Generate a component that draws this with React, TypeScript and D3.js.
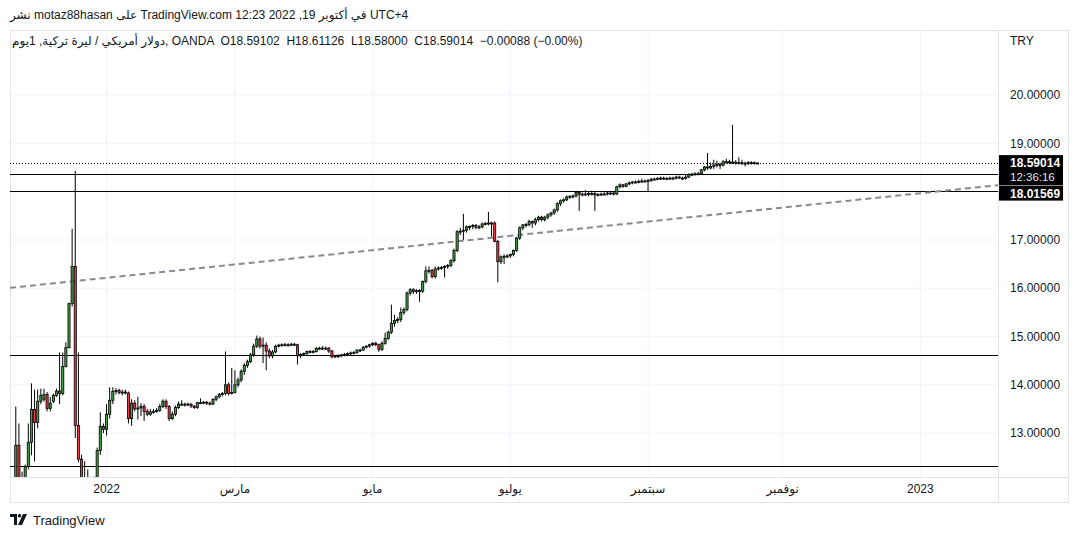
import * as d3 from "d3";

// daily USD/TRY candles from 2021-11-18 (weekdays only): [open, high, low, close]
const candles: [number, number, number, number][] = [
  [10.95, 11.2, 10.85, 11.1], [11.1, 11.4, 11.0, 11.25], [11.25, 11.6, 11.1, 11.35],
  [11.35, 13.55, 11.1, 12.75], [12.75, 13.2, 11.9, 12.05], [12.05, 12.2, 11.7, 11.95],
  [11.95, 12.35, 11.8, 12.31], [12.31, 13.2, 12.25, 12.81], [12.81, 14.03, 12.54, 13.49],
  [13.49, 13.9, 12.41, 13.22], [13.22, 13.9, 13.1, 13.66], [13.66, 13.92, 13.6, 13.78],
  [13.7, 13.92, 13.65, 13.8], [13.8, 13.85, 13.45, 13.51], [13.51, 13.75, 13.45, 13.62],
  [13.66, 13.82, 13.62, 13.78], [13.78, 13.92, 13.75, 13.87], [13.87, 14.67, 13.6, 13.82],
  [13.82, 14.67, 13.78, 14.38], [14.38, 14.88, 14.36, 14.77], [14.77, 15.7, 14.75, 15.68],
  [15.68, 17.23, 15.62, 16.45], [16.45, 18.43, 12.9, 13.16], [13.16, 14.67, 12.4, 12.46],
  [12.46, 12.55, 11.6, 11.75], [11.75, 12.42, 10.9, 11.4], [11.4, 12.25, 11.2, 11.5],
  [11.5, 12.05, 11.3, 11.9], [11.9, 12.1, 11.6, 11.75], [11.75, 12.7, 11.7, 12.64],
  [12.64, 13.43, 12.55, 13.14], [13.14, 13.2, 13.0, 13.08],
  // 2022
  [13.08, 13.6, 12.95, 13.39], [13.39, 13.95, 13.3, 13.68], [13.68, 13.95, 13.6, 13.86],
  [13.86, 13.93, 13.8, 13.88], [13.88, 13.92, 13.8, 13.84], [13.84, 13.9, 13.78, 13.85],
  [13.85, 13.9, 13.8, 13.83], [13.83, 13.86, 13.2, 13.3], [13.3, 13.7, 13.15, 13.62],
  [13.62, 13.68, 13.45, 13.5], [13.5, 13.75, 13.28, 13.52], [13.52, 13.62, 13.35, 13.55],
  [13.55, 13.6, 13.25, 13.45], [13.45, 13.5, 13.35, 13.39], [13.39, 13.5, 13.36, 13.44],
  [13.44, 13.5, 13.4, 13.45], [13.45, 13.52, 13.42, 13.47], [13.47, 13.6, 13.44, 13.55],
  [13.55, 13.7, 13.52, 13.66], [13.66, 13.7, 13.5, 13.55], [13.55, 13.58, 13.25, 13.3],
  [13.3, 13.45, 13.27, 13.39], [13.39, 13.57, 13.35, 13.53], [13.53, 13.65, 13.5, 13.6],
  [13.6, 13.68, 13.56, 13.6], [13.6, 13.63, 13.55, 13.59], [13.59, 13.63, 13.56, 13.6],
  [13.6, 13.62, 13.52, 13.56], [13.56, 13.58, 13.5, 13.53], [13.53, 13.65, 13.5, 13.63],
  [13.63, 13.72, 13.6, 13.63], [13.63, 13.66, 13.6, 13.64], [13.64, 13.66, 13.58, 13.62],
  [13.62, 13.65, 13.57, 13.6], [13.6, 13.72, 13.58, 13.7], [13.7, 13.78, 13.66, 13.75],
  [13.75, 13.83, 13.72, 13.8], [13.8, 13.85, 13.76, 13.82], [13.82, 14.69, 13.78, 14.0],
  [14.0, 14.05, 13.78, 13.82], [13.82, 14.35, 13.8, 13.84], [13.84, 14.3, 13.82, 14.0],
  [14.0, 14.15, 13.95, 14.1], [14.1, 14.32, 14.05, 14.28], [14.28, 14.45, 14.2, 14.4],
  [14.4, 14.52, 14.35, 14.48], [14.48, 14.66, 14.45, 14.62], [14.62, 14.85, 14.58, 14.8],
  [14.8, 15.02, 14.76, 14.95], [14.95, 15.0, 14.75, 14.8], [14.8, 14.98, 14.45, 14.82],
  [14.82, 14.88, 14.3, 14.7], [14.7, 14.75, 14.55, 14.6], [14.6, 14.72, 14.55, 14.68],
  [14.68, 14.83, 14.65, 14.8], [14.8, 14.85, 14.77, 14.82], [14.82, 14.86, 14.79, 14.83],
  [14.83, 14.87, 14.8, 14.82], [14.82, 14.86, 14.79, 14.83], [14.83, 14.87, 14.8, 14.84],
  [14.84, 14.87, 14.8, 14.83], [14.83, 14.85, 14.42, 14.6], [14.6, 14.66, 14.55, 14.63],
  [14.63, 14.67, 14.6, 14.65], [14.65, 14.71, 14.62, 14.69], [14.69, 14.72, 14.65, 14.68],
  [14.68, 14.72, 14.65, 14.69], [14.69, 14.78, 14.67, 14.75], [14.75, 14.79, 14.72, 14.76],
  [14.76, 14.8, 14.72, 14.75], [14.75, 14.79, 14.72, 14.76], [14.76, 14.78, 14.66, 14.7],
  [14.7, 14.72, 14.55, 14.58], [14.58, 14.62, 14.55, 14.6], [14.6, 14.63, 14.56, 14.6],
  [14.6, 14.64, 14.57, 14.62], [14.62, 14.66, 14.59, 14.63], [14.63, 14.67, 14.6, 14.65],
  [14.65, 14.69, 14.62, 14.66], [14.66, 14.7, 14.63, 14.67], [14.67, 14.73, 14.64, 14.72],
  [14.72, 14.75, 14.68, 14.72], [14.72, 14.8, 14.7, 14.78], [14.78, 14.82, 14.75, 14.8],
  [14.8, 14.85, 14.77, 14.83], [14.83, 14.88, 14.8, 14.86], [14.86, 14.89, 14.8, 14.83],
  [14.83, 14.85, 14.68, 14.73], [14.73, 14.9, 14.7, 14.86], [14.86, 15.08, 14.83, 14.96],
  [14.96, 15.12, 14.93, 15.09], [15.09, 15.66, 15.05, 15.27], [15.27, 15.45, 15.2, 15.33],
  [15.33, 15.4, 15.28, 15.35], [15.35, 15.6, 15.3, 15.5], [15.5, 15.6, 15.45, 15.56],
  [15.56, 15.93, 15.52, 15.9], [15.9, 16.0, 15.85, 15.97], [15.97, 16.0, 15.88, 15.93],
  [15.93, 15.98, 15.88, 15.95], [15.95, 15.98, 15.72, 15.94], [15.94, 16.16, 15.9, 16.14],
  [16.14, 16.45, 16.1, 16.36], [16.36, 16.45, 16.3, 16.37], [16.37, 16.4, 16.2, 16.24],
  [16.24, 16.45, 16.2, 16.4], [16.4, 16.45, 16.36, 16.42], [16.42, 16.46, 16.38, 16.43],
  [16.43, 16.48, 16.22, 16.45], [16.45, 16.5, 16.4, 16.47], [16.47, 16.6, 16.44, 16.57],
  [16.57, 16.82, 16.53, 16.78], [16.78, 17.2, 16.75, 17.17], [17.17, 17.25, 17.1, 17.18],
  [17.18, 17.54, 17.0, 17.2], [17.2, 17.3, 17.15, 17.27], [17.27, 17.3, 17.2, 17.28],
  [17.28, 17.33, 17.22, 17.3], [17.3, 17.33, 17.22, 17.26], [17.26, 17.31, 17.22, 17.27],
  [17.27, 17.36, 17.24, 17.33], [17.33, 17.37, 17.3, 17.34], [17.34, 17.58, 17.3, 17.35],
  [17.35, 17.38, 17.07, 17.35], [17.35, 17.38, 16.95, 16.97], [16.97, 17.0, 16.12, 16.55],
  [16.55, 16.68, 16.5, 16.65], [16.65, 16.7, 16.5, 16.66], [16.66, 16.7, 16.62, 16.67],
  [16.67, 16.72, 16.63, 16.7], [16.7, 16.8, 16.66, 16.78], [16.78, 17.06, 16.75, 17.04],
  [17.04, 17.28, 17.0, 17.25], [17.25, 17.33, 17.2, 17.31], [17.31, 17.35, 17.26, 17.32],
  [17.32, 17.42, 17.28, 17.38], [17.38, 17.4, 17.25, 17.35], [17.35, 17.46, 17.3, 17.42],
  [17.42, 17.5, 17.38, 17.47], [17.47, 17.5, 17.38, 17.42], [17.42, 17.5, 17.38, 17.47],
  [17.47, 17.55, 17.43, 17.52], [17.52, 17.58, 17.48, 17.56], [17.56, 17.65, 17.52, 17.62],
  [17.62, 17.78, 17.58, 17.75], [17.75, 17.84, 17.7, 17.81], [17.81, 17.86, 17.77, 17.83],
  [17.83, 17.92, 17.8, 17.89], [17.89, 17.93, 17.85, 17.9], [17.9, 17.94, 17.86, 17.91],
  [17.91, 18.02, 17.88, 17.98], [17.98, 18.01, 17.6, 17.94], [17.94, 17.98, 17.9, 17.95],
  [17.95, 18.03, 17.91, 17.94], [17.94, 17.99, 17.9, 17.96], [17.96, 18.02, 17.92, 17.96],
  [17.96, 17.99, 17.6, 17.93], [17.93, 17.97, 17.9, 17.94], [17.94, 17.98, 17.91, 17.95],
  [17.95, 17.99, 17.92, 17.95], [17.95, 18.0, 17.92, 17.97], [17.97, 18.0, 17.93, 17.97],
  [17.97, 17.99, 17.92, 17.95], [17.95, 18.12, 17.93, 18.1], [18.1, 18.17, 18.07, 18.14],
  [18.14, 18.16, 18.08, 18.11], [18.11, 18.18, 18.09, 18.16], [18.16, 18.21, 18.13, 18.18],
  [18.18, 18.22, 18.15, 18.2], [18.2, 18.23, 18.17, 18.2], [18.2, 18.25, 18.17, 18.21],
  [18.21, 18.27, 18.18, 18.22], [18.22, 18.25, 18.19, 18.22], [18.22, 18.26, 18.0, 18.23],
  [18.23, 18.28, 18.2, 18.26], [18.26, 18.29, 18.23, 18.26], [18.26, 18.3, 18.23, 18.27],
  [18.27, 18.31, 18.24, 18.28], [18.28, 18.31, 18.24, 18.27], [18.27, 18.3, 18.24, 18.27],
  [18.27, 18.31, 18.25, 18.28], [18.28, 18.31, 18.25, 18.28], [18.28, 18.33, 18.25, 18.3],
  [18.3, 18.33, 18.26, 18.28], [18.28, 18.31, 18.24, 18.27], [18.27, 18.35, 18.25, 18.3],
  [18.3, 18.38, 18.28, 18.35], [18.35, 18.39, 18.32, 18.36], [18.36, 18.4, 18.33, 18.37],
  [18.37, 18.41, 18.34, 18.37], [18.37, 18.47, 18.35, 18.45], [18.45, 18.53, 18.42, 18.51],
  [18.51, 18.8, 18.45, 18.49], [18.49, 18.6, 18.46, 18.52], [18.52, 18.66, 18.47, 18.55],
  [18.55, 18.64, 18.5, 18.56], [18.56, 18.6, 18.47, 18.55], [18.55, 18.65, 18.52, 18.62],
  [18.62, 18.68, 18.58, 18.62], [18.62, 18.66, 18.57, 18.61], [18.61, 19.38, 18.57, 18.61],
  [18.61, 18.65, 18.56, 18.6], [18.6, 18.71, 18.56, 18.6], [18.6, 18.66, 18.55, 18.59],
  [18.59, 18.62, 18.52, 18.58], [18.58, 18.63, 18.55, 18.6], [18.6, 18.63, 18.56, 18.59],
  [18.59, 18.62, 18.56, 18.6], [18.59102, 18.61126, 18.58, 18.59014],
];

const firstBarDate = "2021-11-18";
const priceTicks = [13, 14, 15, 16, 17, 18, 19, 20];
const tickMonths = ["2022-01", "2022-03", "2022-05", "2022-07", "2022-09", "2022-11", "2023-01"];
const tickLabels = ["2022", "مارس", "مايو", "يوليو", "سبتمبر", "نوفمبر", "2023"];
const horizontalLevels = [18.364, 18.01569, 14.617, 12.319];
const labelledLevel = 18.01569;
const lastPrice = 18.59014;
const countdown = "12:36:16";
// dashed trend line: [bar index, price]
const trendPoints: [number, number][] = [[0, 16.0], [300, 18.02]];

const W = 1079;
const H = 538;
const plot = { left: 10, right: 998, top: 30, bottom: 477 };
const axisRight = 1068;
const axisBottom = 502;
const font = "'Liberation Sans', 'DejaVu Sans', Arial, sans-serif";
const ink = "#131722";
const grid = "#f0f3fa";
const frame = "#e0e3eb";

function weekdayDates(start: string, n: number) {
  const out: Date[] = [];
  const d = new Date(start + "T00:00:00Z");
  while (out.length < n) {
    const wd = d.getUTCDay();
    if (wd !== 0 && wd !== 6) out.push(new Date(d));
    d.setUTCDate(d.getUTCDate() + 1);
  }
  return out;
}

export default function App() {
  const x = d3.scaleLinear().domain([1.15, 316.8]).range([plot.left, plot.right]);
  const y = d3.scaleLinear().domain([12.091, 21.346]).range([plot.bottom, plot.top]);
  const step = x(1) - x(0);
  const bodyW = step * 0.68;

  const dates = weekdayDates(firstBarDate, 340);
  const monthKey = d3.utcFormat("%Y-%m");
  const ticks = tickMonths.map((m, k) => ({
    i: dates.findIndex((d) => monthKey(d) === m),
    label: tickLabels[k],
  }));

  const trendSlope = (trendPoints[1][1] - trendPoints[0][1]) / (trendPoints[1][0] - trendPoints[0][0]);
  const trendAt = (i: number) => trendPoints[0][1] + (i - trendPoints[0][0]) * trendSlope;
  const iLeft = x.invert(plot.left);
  const iRight = x.invert(plot.right);

  const lastY = y(lastPrice);
  const lastBoxTop = lastY - 8;
  const lastBoxBottom = lastBoxTop + 30;
  const lvlBoxTop = Math.max(y(labelledLevel) - 8, lastBoxBottom + 0.5);

  return (
    <svg
      width={W}
      height={H}
      style={{ position: "absolute", left: 0, top: 0, background: "#fff" }}
      fontFamily={font}
    >
      <defs>
        <clipPath id="plotClip">
          <rect x={plot.left} y={plot.top} width={plot.right - plot.left} height={plot.bottom - plot.top} />
        </clipPath>
      </defs>
      <rect width={W} height={H} fill="#fff" />

      {/* header */}
      <text x={10} y={19} fontSize={12} fill={ink} direction="ltr">
        نشر motaz88hasan على TradingView.com في أكتوبر 19, 2022 12:23 UTC+4
      </text>

      {/* grid */}
      {priceTicks.map((p) => (
        <line key={"h" + p} x1={plot.left} x2={plot.right} y1={y(p)} y2={y(p)} stroke={grid} />
      ))}
      {ticks.map((t) => (
        <line key={"v" + t.i} x1={x(t.i)} x2={x(t.i)} y1={plot.top} y2={plot.bottom} stroke={grid} />
      ))}

      {/* frame */}
      <rect x={plot.left + 0.5} y={plot.top + 0.5} width={axisRight - plot.left} height={axisBottom - plot.top} fill="none" stroke={frame} />
      <line x1={plot.right + 0.5} x2={plot.right + 0.5} y1={plot.top} y2={axisBottom} stroke={frame} />
      <line x1={plot.left} x2={axisRight} y1={plot.bottom + 0.5} y2={plot.bottom + 0.5} stroke={frame} />

      <g clipPath="url(#plotClip)">
        {/* drawn levels */}
        {horizontalLevels.map((p) => (
          <line key={"l" + p} x1={plot.left} x2={plot.right} y1={Math.round(y(p)) + 0.5} y2={Math.round(y(p)) + 0.5} stroke="#000" strokeWidth={1} />
        ))}
        <line x1={plot.left} x2={plot.right} y1={Math.round(lastY) + 0.5} y2={Math.round(lastY) + 0.5} stroke="#000" strokeDasharray="1 2" />
        <line
          x1={x(iLeft)}
          x2={x(iRight)}
          y1={y(trendAt(iLeft))}
          y2={y(trendAt(iRight))}
          stroke="#868993"
          strokeWidth={2}
          strokeDasharray="6 4"
        />

        {/* candles */}
        {candles.map(([o, h, l, c], i) => {
          const cx = x(i);
          const top = y(Math.max(o, c));
          const bh = Math.max(1, Math.abs(y(o) - y(c)));
          return (
            <g key={i}>
              <line x1={cx} x2={cx} y1={y(h)} y2={y(l)} stroke="#000" strokeWidth={1} />
              <rect
                x={cx - bodyW / 2}
                y={top}
                width={bodyW}
                height={bh}
                fill={c >= o ? "#43a047" : "#f23645"}
                stroke="#000"
                strokeWidth={0.8}
              />
            </g>
          );
        })}
      </g>

      {/* legend */}
      <text x={12} y={45} fontSize={12} fill={ink} direction="ltr" style={{ whiteSpace: "pre" }}>
        {"دولار أمريكي / ليرة تركية, 1يوم, OANDA  O18.59102  H18.61126  L18.58000  C18.59014  −0.00088 (−0.00%)"}
      </text>

      {/* price axis */}
      <text x={1010} y={45} fontSize={12} fill={ink}>TRY</text>
      {priceTicks.map((p) => (
        <text key={"t" + p} x={1010} y={y(p)} dy="0.35em" fontSize={12} fill={ink}>
          {p.toFixed(5)}
        </text>
      ))}
      <rect x={plot.right + 1} y={lastBoxTop} width={64} height={lastBoxBottom - lastBoxTop} fill="#000" />
      <text x={1010} y={lastY - 0.5} dy="0.35em" fontSize={12} fontWeight="bold" fill="#fff">
        {lastPrice.toFixed(5)}
      </text>
      <text x={1010} y={lastY + 13.5} dy="0.35em" fontSize={11.5} fill="#e0e3eb">
        {countdown}
      </text>
      <rect x={plot.right + 1} y={lvlBoxTop} width={64} height={15} fill="#000" />
      <text x={1010} y={lvlBoxTop + 8} dy="0.35em" fontSize={12} fontWeight="bold" fill="#fff">
        {labelledLevel.toFixed(5)}
      </text>

      {/* time axis */}
      {ticks.map((t) => (
        <text key={"x" + t.i} x={x(t.i)} y={489} dy="0.35em" fontSize={12} fill={ink} textAnchor="middle">
          {t.label}
        </text>
      ))}

      {/* footer logo */}
      <g transform="translate(10,514)" fill={ink}>
        <path d="M0 0 H7 V11 H4 V3 H0 Z" />
        <circle cx={9.5} cy={1.8} r={1.8} />
        <path d="M13 0 H17 L12 11 H8 Z" />
      </g>
      <text x={33} y={525} fontSize={13} fill={ink}>TradingView</text>
    </svg>
  );
}
